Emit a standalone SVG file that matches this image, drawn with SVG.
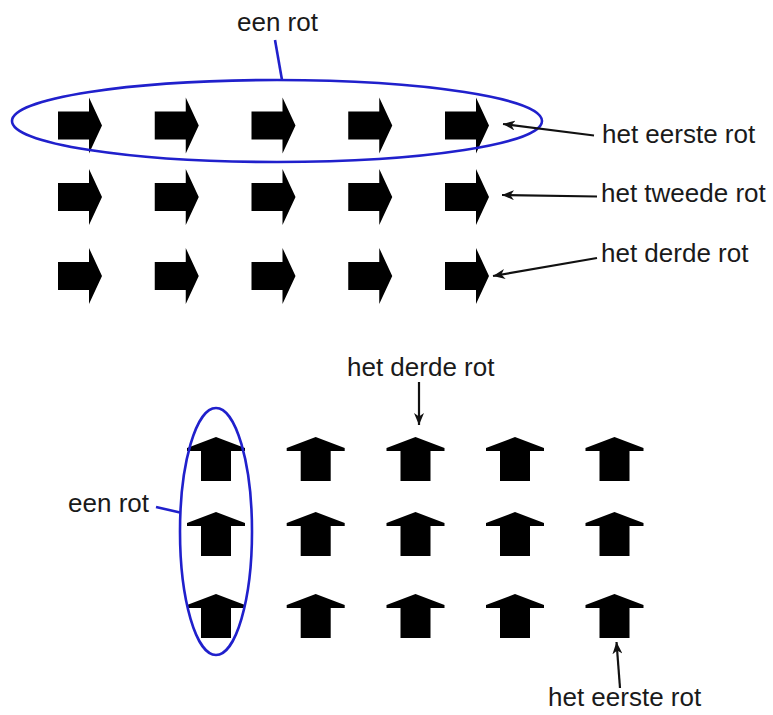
<svg xmlns="http://www.w3.org/2000/svg" width="773" height="715" viewBox="0 0 773 715">
<style>
.t{font-family:"Liberation Sans",Arial,sans-serif;font-size:26px;fill:#1a1a1a}
.ar{fill:#000}
.ring{fill:none;stroke:#2020cc;stroke-width:2.6}
.blue{stroke:#2020cc;stroke-width:2.6;fill:none}
.con{stroke:#111;stroke-width:2.2;fill:none;marker-end:url(#ah)}
</style>
<defs>
<marker id="ah" markerUnits="userSpaceOnUse" markerWidth="14" markerHeight="10" refX="12" refY="5" orient="auto">
<path d="M0,0 L12,5 L0,10 L3.5,5 Z" fill="#111"/>
</marker>
<path id="r" d="M0,-14 H31 V-28 L44,0 L31,28 V14 H0 Z"/>
<path id="u" d="M0,0 L29,11 V14 H15 V44 H-15 V14 H-29 V11 Z"/>
</defs>

<g id="top-arrows" class="ar">
<use href="#r" x="58" y="125.5"/><use href="#r" x="154.75" y="125.5"/><use href="#r" x="251.5" y="125.5"/><use href="#r" x="348.25" y="125.5"/><use href="#r" x="445" y="125.5"/>
<use href="#r" x="58" y="197"/><use href="#r" x="154.75" y="197"/><use href="#r" x="251.5" y="197"/><use href="#r" x="348.25" y="197"/><use href="#r" x="445" y="197"/>
<use href="#r" x="58" y="276"/><use href="#r" x="154.75" y="276"/><use href="#r" x="251.5" y="276"/><use href="#r" x="348.25" y="276"/><use href="#r" x="445" y="276"/>
</g>

<g id="bottom-arrows" class="ar">
<use href="#u" x="216" y="437"/><use href="#u" x="315.7" y="437"/><use href="#u" x="415.5" y="437"/><use href="#u" x="515" y="437"/><use href="#u" x="614.5" y="437"/>
<use href="#u" x="216" y="512"/><use href="#u" x="315.7" y="512"/><use href="#u" x="415.5" y="512"/><use href="#u" x="515" y="512"/><use href="#u" x="614.5" y="512"/>
<use href="#u" x="216" y="594"/><use href="#u" x="315.7" y="594"/><use href="#u" x="415.5" y="594"/><use href="#u" x="515" y="594"/><use href="#u" x="614.5" y="594"/>
</g>

<g id="ring-top"><ellipse class="ring" cx="277" cy="121" rx="265" ry="41"/></g>
<g id="ring-bottom"><ellipse class="ring" cx="216" cy="531.5" rx="36" ry="123.5"/></g>

<g id="label-een-rot-top"><text class="t" x="237" y="31">een rot</text></g>
<g id="label-eerste-top"><text class="t" x="602" y="143">het eerste rot</text></g>
<g id="label-tweede-top"><text class="t" x="601" y="202">het tweede rot</text></g>
<g id="label-derde-top"><text class="t" x="601" y="262">het derde rot</text></g>
<g id="label-derde-bottom"><text class="t" x="347" y="376">het derde rot</text></g>
<g id="label-een-rot-bottom"><text class="t" x="149" y="512" text-anchor="end">een rot</text></g>
<g id="label-eerste-bottom"><text class="t" x="548" y="706">het eerste rot</text></g>

<g id="connectors">
<line class="blue" x1="275" y1="40" x2="282" y2="80"/>
<line class="blue" x1="156" y1="507" x2="180" y2="512.5"/>
<line class="con" x1="594" y1="135.5" x2="503" y2="124"/>
<line class="con" x1="597" y1="196.5" x2="502" y2="195"/>
<line class="con" x1="597" y1="258" x2="493" y2="276"/>
<line class="con" x1="419" y1="382" x2="419" y2="425"/>
<line class="con" x1="620" y1="688" x2="616.5" y2="642"/>
</g>
</svg>
